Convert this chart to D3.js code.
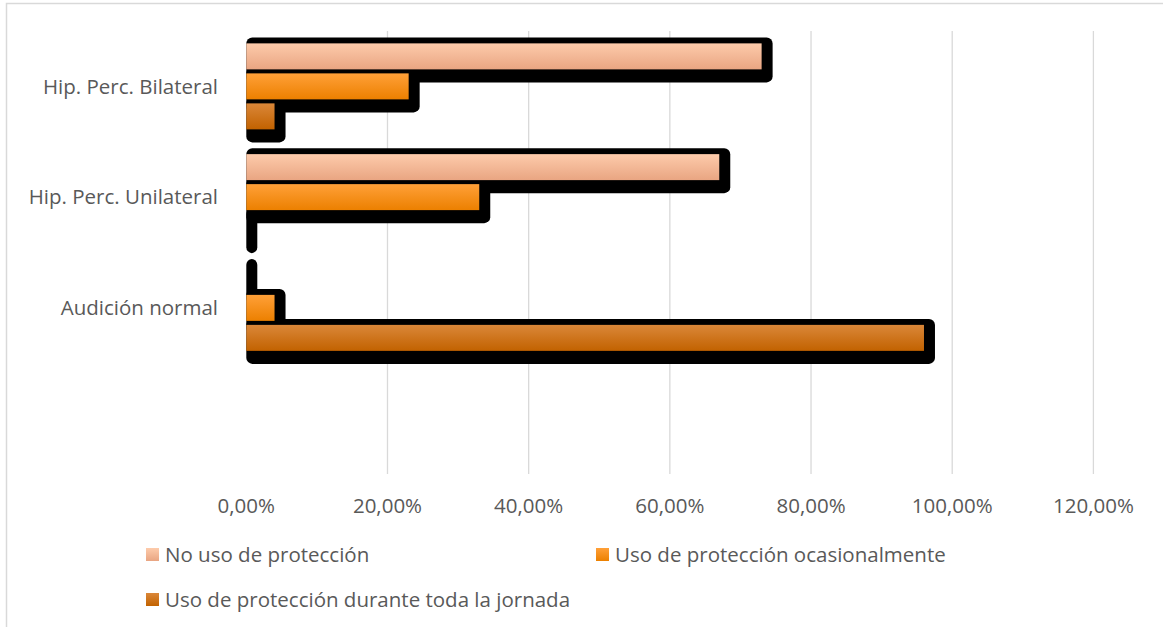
<!DOCTYPE html>
<meta charset="utf-8">
<head>
    <script src="https://d3js.org/d3.v7.min.js"></script>
</head>
<style>
    body { margin: 0; background: #fff; }
    .lbl {
        font-family: 'Open Sans', sans-serif;
        fill: #595959;
    }
</style>
<div id="my_dataviz"></div>
<script>

    // data
    var categories = ["Hip. Perc. Bilateral", "Hip. Perc. Unilateral", "Audición normal"];
    var series = ["No uso de protección", "Uso de protección ocasionalmente", "Uso de protección durante toda la jornada"];
    var noUso = [0.73, 0.67, 0.00];
    var ocasional = [0.23, 0.33, 0.04];
    var todaJornada = [0.04, 0.00, 0.96];
    var xTicks = [0, 0.2, 0.4, 0.6, 0.8, 1.0, 1.2];

    var values = [noUso, ocasional, todaJornada];

    // gradient stops per series (top, bottom)
    var colors = [["#FDCBAB", "#E9A582"], ["#FFA038", "#EC8000"], ["#DA8739", "#C26200"]];

    var W = 1163, H = 627;
    var plot = {left: 246.3, right: 1093.4, top: 31, bottom: 474};

    var svg = d3.select("#my_dataviz")
        .append("svg")
        .attr("width", W)
        .attr("height", H);

    var defs = svg.append("defs");
    colors.forEach(function(c, i) {
        var g = defs.append("linearGradient")
            .attr("id", "grad" + i)
            .attr("x1", 0).attr("y1", 0).attr("x2", 0).attr("y2", 1);
        g.append("stop").attr("offset", "0%").attr("stop-color", c[0]);
        g.append("stop").attr("offset", "100%").attr("stop-color", c[1]);
    });

    // outer frame
    svg.append("rect")
        .attr("x", 6.5).attr("y", 3.5)
        .attr("width", W + 20).attr("height", H + 20)
        .attr("fill", "none")
        .attr("stroke", "#D9D9D9")
        .attr("stroke-width", 1.5);

    // scales
    var x = d3.scaleLinear()
        .domain([0, 1.2])
        .range([plot.left, plot.right]);

    // 4 slots, the last one is left empty like in the original
    var y = d3.scaleBand()
        .domain(categories.concat([""]))
        .range([plot.top, plot.bottom]);

    var inner = d3.scaleBand()
        .domain(series)
        .range([0, 86])
        .paddingInner(4 / 30);

    // gridlines
    svg.append("g")
        .selectAll("line")
        .data(xTicks.slice(1))
        .enter()
        .append("line")
        .attr("x1", function(d) { return x(d); })
        .attr("x2", function(d) { return x(d); })
        .attr("y1", plot.top)
        .attr("y2", plot.bottom)
        .attr("stroke", "#D9D9D9")
        .attr("stroke-width", 1.3);

    // flatten to bar records
    var bars = [];
    categories.forEach(function(cat, ci) {
        series.forEach(function(s, si) {
            bars.push({cat: cat, s: s, si: si, v: values[si][ci]});
        });
    });

    function barTop(d) {
        return y(d.cat) + y.bandwidth() / 2 - 43 + inner(d.s);
    }

    // hard black shadows first
    svg.append("g")
        .selectAll("rect")
        .data(bars)
        .enter()
        .append("rect")
        .attr("x", plot.left)
        .attr("y", function(d) { return barTop(d) - 6; })
        .attr("width", function(d) { return x(d.v) - plot.left + 11; })
        .attr("height", function(d) { return inner.bandwidth() + 19; })
        .attr("rx", 6)
        .attr("fill", "#000");

    // bars on top
    svg.append("g")
        .selectAll("rect")
        .data(bars)
        .enter()
        .append("rect")
        .attr("x", plot.left)
        .attr("y", function(d) { return barTop(d); })
        .attr("width", function(d) { return x(d.v) - plot.left; })
        .attr("height", inner.bandwidth())
        .attr("fill", function(d) { return "url(#grad" + d.si + ")"; });

    // category labels
    svg.append("g")
        .selectAll("text")
        .data(categories)
        .enter()
        .append("text")
        .attr("class", "lbl")
        .attr("x", 218)
        .attr("y", function(d) { return y(d) + y.bandwidth() / 2; })
        .attr("dy", "0.35em")
        .attr("text-anchor", "end")
        .style("font-size", "20.5px")
        .text(function(d) { return d; });

    // x tick labels
    var fmt = function(d) { return d3.format(".2f")(d * 100).replace(".", ",") + "%"; };
    svg.append("g")
        .selectAll("text")
        .data(xTicks)
        .enter()
        .append("text")
        .attr("class", "lbl")
        .attr("x", function(d) { return x(d); })
        .attr("y", 513)
        .attr("text-anchor", "middle")
        .style("font-size", "20.5px")
        .text(fmt);

    // legend
    var legendPos = [[146, 555], [596, 555], [146, 600]];
    var legend = svg.append("g")
        .selectAll("g")
        .data(series)
        .enter()
        .append("g")
        .attr("transform", function(d, i) { return "translate(" + legendPos[i][0] + "," + legendPos[i][1] + ")"; });
    legend.append("rect")
        .attr("x", 0).attr("y", -7)
        .attr("width", 13).attr("height", 13)
        .attr("fill", function(d, i) { return "url(#grad" + i + ")"; });
    legend.append("text")
        .attr("class", "lbl")
        .attr("x", 19)
        .attr("y", 0)
        .attr("dy", "0.35em")
        .style("font-size", "20.5px")
        .text(function(d) { return d; });

</script>
